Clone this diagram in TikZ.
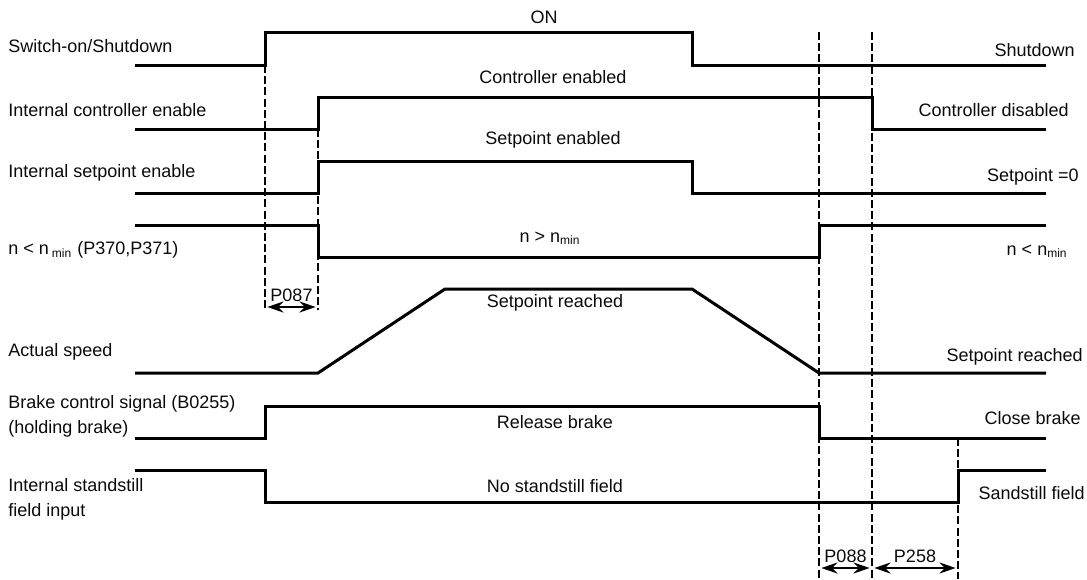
\documentclass[tikz,border=0pt]{standalone}
\usepackage{fontspec}
\setmainfont{Liberation Sans}
\usetikzlibrary{arrows.meta,positioning}
\definecolor{sigclr}{RGB}{0,0,0}
\definecolor{txtclr}{RGB}{10,10,10}
\tikzset{
  sig/.style={line width=1.5pt,draw=sigclr,line join=miter},
  tline/.style={line width=1.4pt,draw=sigclr,dash pattern=on 4pt off 1.6pt},
  dimarr/.style={{Stealth[length=8pt,width=5.5pt]}-{Stealth[length=8pt,width=5.5pt]},
    line width=1.2pt,draw=sigclr,shorten <=1.2pt,shorten >=1.2pt},
  lbl/.style={anchor=west,align=left,text=txtclr,inner sep=0pt,
    font=\fontsize{9}{12.5}\selectfont},
  rlbl/.style={anchor=east,text=txtclr,inner sep=0pt,
    font=\fontsize{9}{11}\selectfont},
  mlbl/.style={anchor=center,text=txtclr,inner sep=0pt,
    font=\fontsize{9}{11}\selectfont},
  dlbl/.style={above,text=txtclr,inner sep=2pt,
    font=\fontsize{9}{11}\selectfont},
}

\begin{document}
\begin{tikzpicture}[x=0.5pt,y=-0.5pt]
  \useasboundingbox (0,0) rectangle (1087,579);

  % time marks
  \draw[tline] (265,65)  -- (265,310);
  \draw[tline] (318,129) -- (318,310);
  \draw[tline] (819,32)  -- (819,579);
  \draw[tline] (872,32)  -- (872,579);
  \draw[tline] (958,438) -- (958,579);

  % signals
  \draw[sig] (135,65) -- (265,65) -- (265,32) -- (692,32) -- (692,65) -- (1046,65);
  \draw[sig] (135,129) -- (318,129) -- (318,97) -- (872,97) -- (872,129) -- (1046,129);
  \draw[sig] (135,193) -- (318,193) -- (318,161) -- (692,161) -- (692,193) -- (1046,193);
  \draw[sig] (135,225) -- (318,225) -- (318,257) -- (819,257) -- (819,225) -- (1046,225);
  \draw[sig] (135,373) -- (318,373) -- (445,289) -- (692,289) -- (819,373) -- (1046,373);
  \draw[sig] (135,438) -- (265,438) -- (265,406) -- (819,406) -- (819,438) -- (1046,438);
  \draw[sig] (135,470) -- (265,470) -- (265,502) -- (958,502) -- (958,470) -- (1046,470);

  % signal names
  \foreach \y/\txt [count=\i] in {
    46/{Switch-on/Shutdown},
    110/Internal controller enable,
    173/Internal setpoint enable,
    250/{n < n\,\textsubscript{min} (P370,P371)},
    352/Actual speed,
    416/{Brake control signal (B0255)\\(holding brake)},
    499/{Internal standstill\\field input}}{
    \node[lbl] (sn\i) at (8,\y) {\txt};
  }

  % states
  \foreach \x/\y/\txt [count=\i] in {
    544/17/ON,
    553/77/Controller enabled,
    553/140/Setpoint enabled,
    550/238/{n > n\textsubscript{min}},
    555/303/Setpoint reached,
    555/422/Release brake,
    555/486/No standstill field}{
    \node[mlbl] (st\i) at (\x,\y) {\txt};
  }

  \node[rlbl] (end1) at (1075,50)  {Shutdown};
  \node[rlbl] (end2) at (1069,110) {Controller disabled};
  \node[rlbl] (end3) at (1079,177) {Setpoint =0};
  \node[rlbl] (end4) at (1068,251) {n < n\textsubscript{min}};
  \node[rlbl] (end5) at (1083,357) {Setpoint reached};
  \node[rlbl] (end6) at (1081,418) {Close brake};
  \node[rlbl] (end7) at (1085,493) {Sandstill field};

  % delay times
  \coordinate (p87a) at (265,307);
  \coordinate (p87b) at (318,307);
  \coordinate (p88a) at (819,568);
  \coordinate (p88b) at (872,568);
  \coordinate (p258b) at (958,568);
  \draw[dimarr] (p87a) -- (p87b) node[dlbl,midway] {P087};
  \draw[dimarr] (p88a) -- (p88b) node[dlbl,midway] {P088};
  \draw[dimarr] (p88b) -- (p258b) node[dlbl,midway] {P258};

\end{tikzpicture}
\end{document}
